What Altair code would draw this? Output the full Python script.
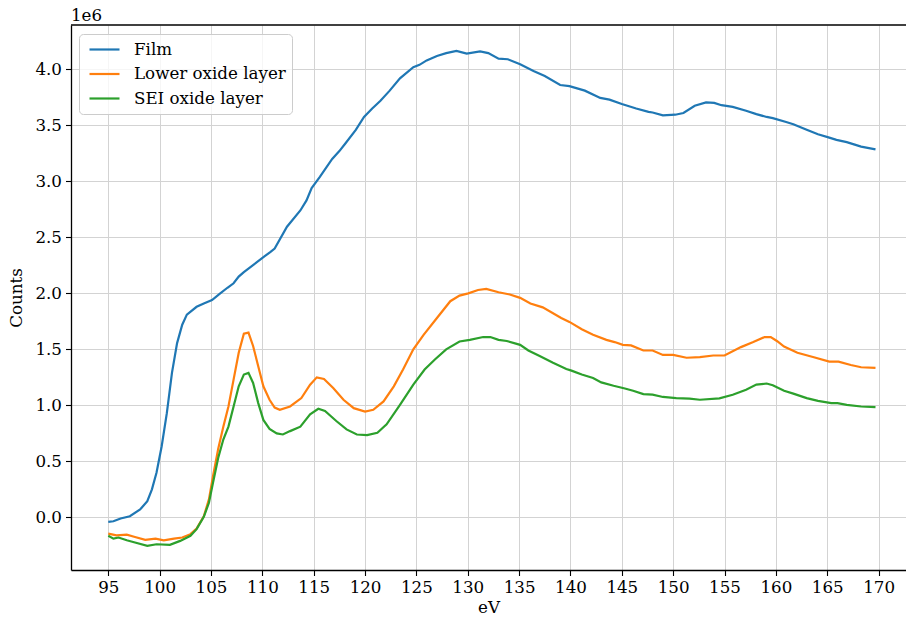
import altair as alt
import pandas as pd

# ---- data (Counts in units of 1e6) ----
film_ev = [95.0, 95.5, 96.2, 97.1, 98.1, 98.8, 99.25, 99.7, 100.2, 100.7, 101.2, 101.7, 102.2, 102.65,
           103.6, 104.3, 105.1, 105.9, 106.6, 107.2, 107.7, 108.2, 109.5, 110.2, 110.8, 111.2, 112.4,
           113.7, 114.3, 114.8, 115.6, 116.8, 117.5, 118.1, 119.1, 119.9, 120.7, 121.5, 122.4, 123.4,
           124.7, 125.3, 126.0, 127.0, 127.9, 128.9, 129.9, 131.2, 132.0, 133.0, 133.9, 135.1, 136.4,
           137.5, 139.0, 139.9, 141.4, 142.9, 143.8, 145.0, 146.4, 147.6, 148.0, 149.0, 150.2, 151.0,
           152.1, 153.2, 154.0, 154.7, 155.8, 157.1, 158.1, 159.1, 159.7, 161.0, 161.7, 163.0, 164.1,
           165.2, 165.9, 166.9, 168.3, 169.7]
film_counts = [-0.04, -0.035, -0.01, 0.01, 0.07, 0.145, 0.25, 0.40, 0.635, 0.93, 1.29, 1.556, 1.72, 1.81,
               1.88, 1.91, 1.94, 2.0, 2.05, 2.09, 2.15, 2.19, 2.28, 2.33, 2.37, 2.40, 2.595,
               2.74, 2.83, 2.94, 3.04, 3.20, 3.27, 3.34, 3.46, 3.575, 3.65, 3.72, 3.81, 3.92,
               4.02, 4.04, 4.08, 4.12, 4.145, 4.165, 4.14, 4.16, 4.145, 4.095, 4.09, 4.045, 3.985,
               3.94, 3.86, 3.85, 3.81, 3.745, 3.73, 3.69, 3.65, 3.62, 3.615, 3.59, 3.595, 3.61,
               3.675, 3.705, 3.70, 3.68, 3.665, 3.63, 3.60, 3.575, 3.565, 3.53, 3.51, 3.46, 3.42,
               3.39, 3.37, 3.35, 3.31, 3.285]

lower_ev = [95.0, 95.8, 96.8, 97.6, 98.6, 99.6, 100.4, 101.4, 102.2, 103.0, 103.6, 104.3, 104.8, 105.2,
            105.7, 106.2, 106.7, 107.2, 107.7, 108.2, 108.65, 109.1, 109.6, 110.1, 110.7, 111.2, 111.7,
            112.7, 113.8, 114.65, 115.3, 116.0, 116.9, 117.9, 118.9, 120.0, 120.8, 121.8, 122.8, 123.7,
            124.7, 125.7, 127.0, 128.3, 129.2, 130.05, 131.0, 131.8, 133.0, 134.1, 135.1, 136.1, 137.3,
            139.1, 139.9, 141.1, 142.2, 143.5, 144.3, 145.1, 145.9, 147.1, 148.0, 149.0, 150.0, 151.3,
            152.6, 153.9, 155.0, 156.6, 157.8, 158.9, 159.5, 160.1, 160.8, 162.1, 163.7, 165.2, 166.1,
            167.3, 168.3, 169.7]
lower_counts = [-0.145, -0.16, -0.155, -0.175, -0.20, -0.19, -0.205, -0.19, -0.18, -0.15, -0.10, 0.01, 0.16, 0.37,
                0.61, 0.81, 0.99, 1.23, 1.47, 1.64, 1.65, 1.53, 1.35, 1.17, 1.05, 0.98, 0.96,
                0.99, 1.065, 1.185, 1.25, 1.235, 1.155, 1.05, 0.975, 0.945, 0.96, 1.035, 1.17, 1.32,
                1.50, 1.63, 1.78, 1.93, 1.98, 2.0, 2.03, 2.04, 2.01, 1.99, 1.96, 1.91, 1.875,
                1.78, 1.745, 1.68, 1.63, 1.585, 1.565, 1.54, 1.535, 1.49, 1.49, 1.45, 1.45, 1.425,
                1.43, 1.445, 1.445, 1.52, 1.565, 1.61, 1.61, 1.575, 1.525, 1.47, 1.43, 1.39, 1.39,
                1.36, 1.34, 1.335]

sei_ev = [95.0, 95.5, 96.0, 96.8, 97.6, 98.8, 99.7, 101.0, 102.0, 103.0, 103.6, 104.3, 104.8, 105.2,
          105.7, 106.2, 106.7, 107.2, 107.7, 108.2, 108.65, 109.1, 109.6, 110.1, 110.7, 111.4, 112.0,
          112.7, 113.7, 114.65, 115.45, 116.1, 117.2, 118.2, 119.2, 120.2, 121.2, 122.1, 123.4, 124.7,
          125.8, 126.8, 127.9, 129.2, 130.2, 131.5, 132.2, 133.0, 133.8, 135.1, 135.9, 137.0, 138.3,
          139.6, 140.1, 141.1, 142.2, 143.0, 144.2, 145.3, 146.1, 147.1, 148.0, 149.0, 150.3, 151.6,
          152.6, 154.5, 155.8, 157.1, 158.1, 159.1, 159.7, 160.8, 161.7, 163.0, 164.1, 165.4, 166.0,
          166.9, 168.3, 169.7]
sei_counts = [-0.165, -0.19, -0.18, -0.205, -0.225, -0.255, -0.24, -0.245, -0.21, -0.165, -0.105, 0.005, 0.13, 0.31,
              0.53, 0.695, 0.81, 0.99, 1.17, 1.275, 1.29, 1.20, 1.02, 0.87, 0.79, 0.75, 0.74,
              0.77, 0.81, 0.92, 0.97, 0.95, 0.86, 0.785, 0.74, 0.735, 0.755, 0.83, 1.005, 1.185,
              1.32, 1.41, 1.50, 1.57, 1.585, 1.61, 1.61, 1.585, 1.575, 1.54, 1.49, 1.44, 1.38,
              1.325, 1.31, 1.275, 1.245, 1.205, 1.175, 1.15, 1.13, 1.10, 1.095, 1.075, 1.065, 1.06,
              1.05, 1.063, 1.095, 1.14, 1.185, 1.195, 1.18, 1.13, 1.105, 1.065, 1.04, 1.02, 1.02,
              1.005, 0.99, 0.985]

series_names = ["Film", "Lower oxide layer", "SEI oxide layer"]
series_colors = ["#1f77b4", "#ff7f0e", "#2ca02c"]
x_ticks = [95, 100, 105, 110, 115, 120, 125, 130, 135, 140, 145, 150, 155, 160, 165, 170]
y_ticks = [0.0, 0.5, 1.0, 1.5, 2.0, 2.5, 3.0, 3.5, 4.0]

frames = []
for name, ev, cnt in zip(series_names, [film_ev, lower_ev, sei_ev],
                         [film_counts, lower_counts, sei_counts]):
    frames.append(pd.DataFrame({"eV": ev, "Counts": cnt, "Series": name}))
df = pd.concat(frames, ignore_index=True)

FONT = "DejaVu Serif"
FS = 16.7
W, H = 835, 545

lines = alt.Chart(df).mark_line(strokeWidth=2.2).encode(
    x=alt.X("eV:Q",
            scale=alt.Scale(domain=[91.37, 172.67], nice=False, zero=False),
            axis=alt.Axis(values=x_ticks, title="eV", format="d")),
    y=alt.Y("Counts:Q",
            scale=alt.Scale(domain=[-0.470, 4.396], nice=False, zero=False),
            axis=alt.Axis(values=y_ticks, title="Counts", format=".1f")),
    color=alt.Color("Series:N",
                    scale=alt.Scale(domain=series_names, range=series_colors),
                    legend=alt.Legend(orient="none", legendX=8, legendY=9, title=None,
                                      symbolType="M-0.625,0H3.125", symbolSize=256,
                                      symbolStrokeWidth=2.2,
                                      labelFont=FONT, labelFontSize=FS, labelColor="black",
                                      labelOffset=30, padding=6, rowPadding=5.5,
                                      fillColor="rgba(255,255,255,0.8)", strokeColor="#cccccc",
                                      cornerRadius=4, labelLimit=400)),
)

top_spine = alt.Chart(alt.Data(values=[{}])).mark_rule(color="black", strokeWidth=1.3).encode(
    x=alt.value(0), x2=alt.value(W), y=alt.value(0)
)

offset_text = alt.Chart(alt.Data(values=[{}])).mark_text(
    text="1e6", font=FONT, fontSize=FS, align="left", baseline="alphabetic", color="black"
).encode(x=alt.value(0), y=alt.value(-4))

chart = alt.layer(lines, top_spine, offset_text).properties(
    width=W, height=H,
    padding={"left": 71, "top": 25, "right": 0, "bottom": 49},
    autosize=alt.AutoSizeParams(type="none"),
    background="white",
).configure_view(stroke=None).configure_axis(
    labelFont=FONT, labelFontSize=FS, labelColor="black",
    titleFont=FONT, titleFontSize=FS, titleFontWeight="normal", titleColor="black",
    domainColor="black", domainWidth=1.3, tickColor="black", tickSize=5.5, tickWidth=1.1,
    gridColor="#d3d3d3", gridWidth=1, labelPadding=4,
).configure_axisX(titlePadding=3).configure_axisY(titlePadding=9)

chart.save("out.html", embed_options={"renderer": "svg", "actions": False})
